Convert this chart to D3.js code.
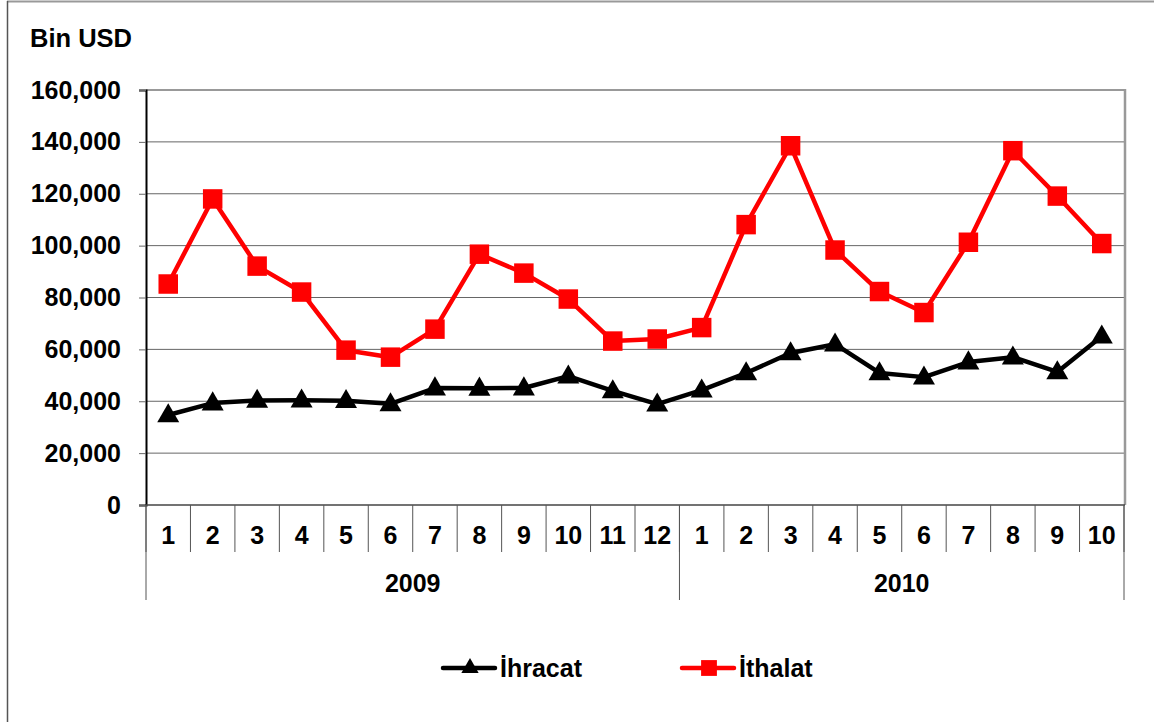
<!DOCTYPE html>
<html>
<head>
<meta charset="utf-8">
<script src="https://cdn.jsdelivr.net/npm/d3@7"></script>
<style>
  body { margin: 0; background: #fff; }
  text { font-family: "Liberation Sans", Arial, sans-serif; font-weight: bold; fill: #000; }
</style>
</head>
<body>
<div id="chart"></div>
<script>
// Monthly trade, Bin USD
const months = ['1','2','3','4','5','6','7','8','9','10','11','12','1','2','3','4','5','6','7','8','9','10'];
const years = ['2009', '2010'];
const yearMonths = [12, 10];
const ihracat = [34700, 39300, 40300, 40400, 40200, 39000, 45100, 45000, 45100, 49700, 44000, 38900,
                 44300, 50900, 58600, 62000, 50900, 49300, 55100, 57000, 51300, 65100];
const ithalat = [85200, 118000, 92100, 82100, 59700, 57000, 67800, 96700, 89400, 79400, 63200, 64000,
                 68400, 108100, 138500, 98300, 82300, 74200, 101300, 136600, 119100, 100800];
const yTicks = [0, 20000, 40000, 60000, 80000, 100000, 120000, 140000, 160000];

const width = 1154, height = 722;
const margin = { left: 146, right: 1124, top: 90, bottom: 505 };

const svg = d3.select('#chart')
    .append('svg')
    .attr('width', width)
    .attr('height', height);

// Outer frame
svg.append('line').attr('x1', 7).attr('x2', width).attr('y1', 1.5).attr('y2', 1.5)
    .attr('stroke', '#999').attr('stroke-width', 2);
svg.append('line').attr('x1', 7.5).attr('x2', 7.5).attr('y1', 1).attr('y2', height)
    .attr('stroke', '#555').attr('stroke-width', 1.5);

const x = d3.scaleBand()
    .domain(d3.range(months.length))
    .range([margin.left, margin.right]);

const y = d3.scaleLinear()
    .domain([0, 160000])
    .range([margin.bottom, margin.top]);

// Gridlines
svg.append('g')
    .selectAll('line')
    .data(yTicks.slice(1))
    .enter()
    .append('line')
    .attr('x1', margin.left)
    .attr('x2', margin.right)
    .attr('y1', d => y(d))
    .attr('y2', d => y(d))
    .attr('stroke', d => d === 160000 ? '#999' : '#666')
    .attr('stroke-width', d => d === 160000 ? 2 : 1);

// Right border of plot
svg.append('line')
    .attr('x1', margin.right + 1).attr('x2', margin.right + 1)
    .attr('y1', margin.top - 1).attr('y2', margin.bottom)
    .attr('stroke', '#999').attr('stroke-width', 2.5);

// Y axis
const yAxis = svg.append('g')
    .attr('transform', `translate(${margin.left},0)`)
    .call(d3.axisLeft(y).tickValues(yTicks).tickFormat(d3.format(',')).tickSize(7).tickPadding(18));
yAxis.select('.domain').attr('stroke', '#000').attr('stroke-width', 2);
yAxis.selectAll('.tick line').attr('stroke', '#666');
yAxis.selectAll('.tick text')
    .attr('font-size', '25px')
    .attr('font-family', '"Liberation Sans", Arial, sans-serif')
    .attr('font-weight', 'bold')
    .attr('fill', '#000');

svg.append('text')
    .attr('x', 30)
    .attr('y', 47)
    .attr('font-size', '25.5px')
    .text('Bin USD');

// X axis base line
svg.append('line')
    .attr('x1', margin.left).attr('x2', margin.right + 1)
    .attr('y1', y(0)).attr('y2', y(0))
    .attr('stroke', '#444').attr('stroke-width', 1.5);

// Month dividers
const bw = x.bandwidth();
svg.append('g')
    .selectAll('line')
    .data(d3.range(months.length + 1))
    .enter()
    .append('line')
    .attr('x1', i => i < months.length ? x(i) : x(i - 1) + bw)
    .attr('x2', i => i < months.length ? x(i) : x(i - 1) + bw)
    .attr('y1', y(0))
    .attr('y2', y(0) + 47)
    .attr('stroke', '#555')
    .attr('stroke-width', 1);

svg.append('g')
    .selectAll('text')
    .data(months)
    .enter()
    .append('text')
    .attr('x', (d, i) => x(i) + bw / 2)
    .attr('y', 544)
    .attr('text-anchor', 'middle')
    .attr('font-size', '25px')
    .text(d => d);

// Year groups
let start = 0;
const yearGroups = years.map((yr, k) => {
    const g = { year: yr, from: start, to: start + yearMonths[k] };
    start += yearMonths[k];
    return g;
});
const yearEdges = [0].concat(yearGroups.map(g => g.to));
svg.append('g')
    .selectAll('line')
    .data(yearEdges)
    .enter()
    .append('line')
    .attr('x1', i => i < months.length ? x(i) : x(i - 1) + bw)
    .attr('x2', i => i < months.length ? x(i) : x(i - 1) + bw)
    .attr('y1', y(0))
    .attr('y2', 600)
    .attr('stroke', '#555')
    .attr('stroke-width', 1);

svg.append('g')
    .selectAll('text')
    .data(yearGroups)
    .enter()
    .append('text')
    .attr('x', g => (x(g.from) + x(g.to - 1) + bw) / 2)
    .attr('y', 592)
    .attr('text-anchor', 'middle')
    .attr('font-size', '25px')
    .text(g => g.year);

// Series
const series = [
    { name: 'İhracat', values: ihracat, color: '#000', symbol: d3.symbolTriangle, size: 210 },
    { name: 'İthalat', values: ithalat, color: '#ff0000', symbol: d3.symbolSquare, size: 380 }
];

const line = d3.line()
    .x((d, i) => x(i) + bw / 2)
    .y(d => y(d));

series.forEach(s => {
    svg.append('path')
        .datum(s.values)
        .attr('d', line)
        .attr('fill', 'none')
        .attr('stroke', s.color)
        .attr('stroke-width', 4.5)
        .attr('stroke-linejoin', 'round');

    svg.append('g')
        .selectAll('path')
        .data(s.values)
        .enter()
        .append('path')
        .attr('transform', (d, i) => `translate(${x(i) + bw / 2},${y(d) + (s.symbol === d3.symbolTriangle ? 1 : 0)})`)
        .attr('d', d3.symbol().type(s.symbol).size(s.size))
        .attr('fill', s.color);
});

// Legend
const legendX = [443, 682];
const legend = svg.append('g')
    .selectAll('g')
    .data(series)
    .enter()
    .append('g')
    .attr('transform', (d, i) => `translate(${legendX[i]},668)`);

legend.append('line')
    .attr('x1', 0).attr('x2', 52)
    .attr('y1', 0).attr('y2', 0)
    .attr('stroke', d => d.color)
    .attr('stroke-width', 4.5)
    .attr('stroke-linecap', 'round');

legend.append('path')
    .attr('transform', 'translate(27,0)')
    .attr('d', d => d3.symbol().type(d.symbol).size(d.symbol === d3.symbolSquare ? 250 : 130)())
    .attr('fill', d => d.color);

legend.append('text')
    .attr('x', 57)
    .attr('y', 9)
    .attr('font-size', '25px')
    .text(d => d.name);
</script>
</body>
</html>
